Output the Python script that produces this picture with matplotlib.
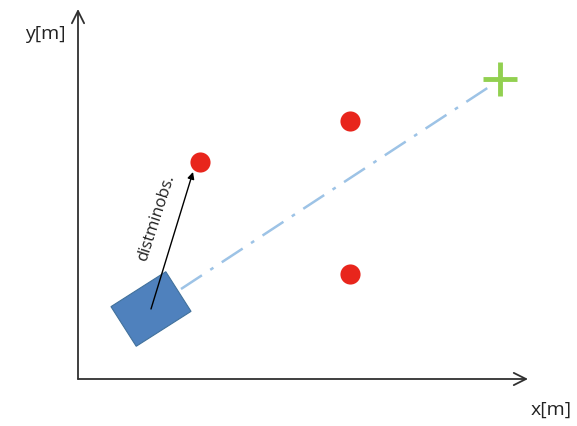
import matplotlib
matplotlib.use("Agg")
import matplotlib.pyplot as plt
from matplotlib.patches import Rectangle

# scene values (units roughly 10 px each, origin at axis corner)
obstacle_x = [12.2, 27.2, 27.2]
obstacle_y = [21.7, 25.8, 10.5]
goal = (42.2, 30.0)
robot = (7.3, 7.0)
robot_size = (6.5, 4.7)
robot_angle = 32.5
axis_len = (45.0, 37.0)

fig = plt.figure(figsize=(5.77, 4.27), dpi=100)
ax = fig.add_axes([0, 0, 1, 1])
ax.set_xlim(-7.8, 49.9)
ax.set_ylim(-4.7, 38.0)
ax.axis("off")

# coordinate axes with open arrow heads
arrow_kw = dict(arrowstyle="->", color="#303030", lw=1.3, mutation_scale=22,
                shrinkA=0, shrinkB=0)
ax.annotate("", xy=(axis_len[0], 0), xytext=(0, 0), arrowprops=arrow_kw)
ax.annotate("", xy=(0, axis_len[1]), xytext=(0, 0), arrowprops=arrow_kw)
ax.text(-1.2, 34.6, "y[m]", ha="right", va="center", fontsize=14,
        family="Open Sans", color="#222222")
ax.text(47.3, -3.0, "x[m]", ha="center", va="center", fontsize=14,
        family="Open Sans", color="#222222")

# path from robot to goal
ax.plot([robot[0] + 3.0, goal[0] - 0.8], [robot[1] + 2.0, goal[1] - 0.6],
        color="#9DC3E6", lw=1.8, linestyle=(0, (10, 4, 1.5, 4)), zorder=1)

# robot body
w, h = robot_size
body = Rectangle((robot[0] - w / 2, robot[1] - h / 2), w, h, angle=robot_angle,
                 rotation_point="center", facecolor="#4F81BD",
                 edgecolor="#41719C", lw=0.8, zorder=2)
ax.add_patch(body)

# obstacles and goal
ax.scatter(obstacle_x, obstacle_y, s=210, color="#E8251C", zorder=3, linewidths=0)
ax.plot(goal[0], goal[1], marker="+", markersize=25, mew=3.5, color="#92D050", zorder=3)

# distance to closest obstacle
ax.annotate("", xy=(obstacle_x[0] - 0.7, obstacle_y[0] - 1.0), xytext=robot,
            arrowprops=dict(arrowstyle="-|>", color="black", lw=1.0,
                            mutation_scale=10, shrinkA=0, shrinkB=0), zorder=4)
ax.text(7.8, 16.2, "distminobs.", rotation=72, ha="center", va="center",
        fontsize=12, family="Open Sans", color="#222222")

fig.savefig("out.png", dpi=100)
